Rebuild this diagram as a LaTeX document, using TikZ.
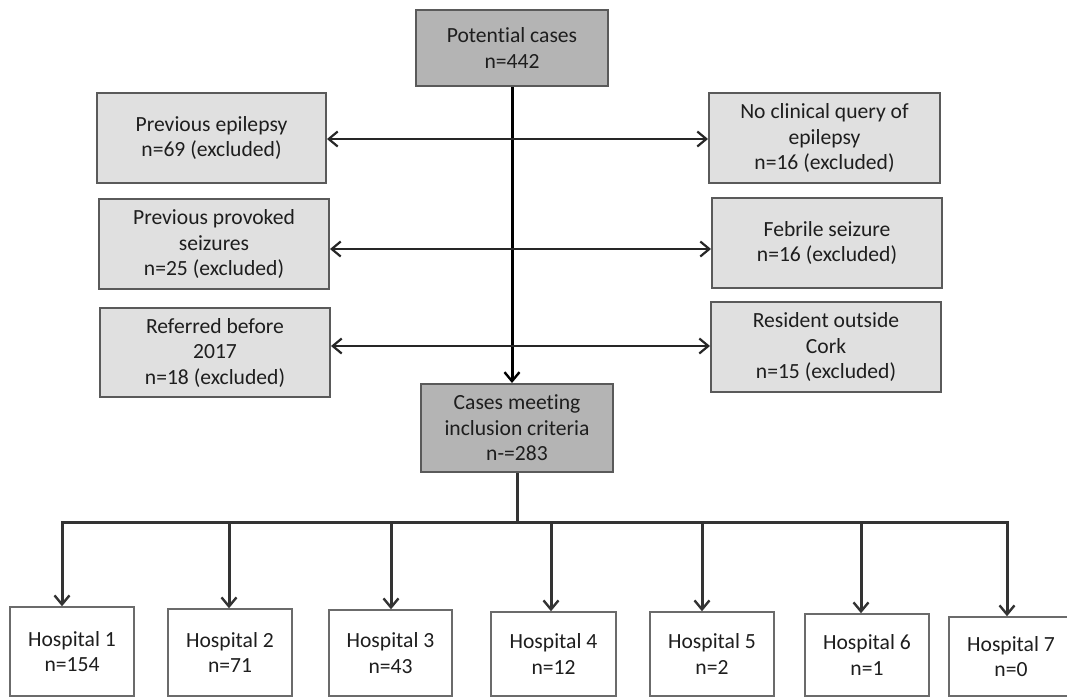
\documentclass[tikz,border=0pt]{standalone}
\usepackage{fontspec}
\setmainfont{Carlito}[Ligatures=NoCommon]
\usetikzlibrary{arrows.meta}
\definecolor{darkfill}{HTML}{B4B4B4}
\definecolor{lightfill}{HTML}{E0E0E0}
\definecolor{edgegray}{HTML}{5A5A5A}
\definecolor{linegray}{HTML}{333333}
\definecolor{textcol}{HTML}{1E1E1E}
\tikzset{
  basebox/.style={draw=edgegray, line width=2pt, align=center, inner sep=2pt,
    font=\fontsize{21.6}{25.5}\selectfont, text=textcol},
  darkbox/.style={basebox, fill=darkfill},
  lightbox/.style={basebox, fill=lightfill},
  hospbox/.style={basebox, fill=white, line width=1.5pt, draw=edgegray!90},
  mainline/.style={line width=3pt, black},
  sidearrow/.style={line width=2.3pt, black!85, {Straight Barb[length=9pt, width=15pt, line width=2.2pt]}-{Straight Barb[length=9pt, width=15pt, line width=2.2pt]}},
  busline/.style={line width=3pt, linegray},
  droparrow/.style={line width=3pt, linegray, -{Straight Barb[length=9pt, width=15pt, line width=2.4pt]}}
}
\begin{document}
\begin{tikzpicture}[x=1pt,y=-1pt]
\useasboundingbox (0,0) rectangle (1067,697);
% top
\node[darkbox, minimum width=192pt, minimum height=76pt] (top) at (512,48) {Potential cases\\n=442};
% left exclusions
\node[lightbox, minimum width=229pt, minimum height=90pt] (l1) at (211.5,138) {Previous epilepsy\\n=69 (excluded)};
\node[lightbox, minimum width=230pt, minimum height=90pt] (l2) at (214,244) {Previous provoked\\seizures\\n=25 (excluded)};
\node[lightbox, minimum width=230pt, minimum height=89pt] (l3) at (215,352.5) {Referred before\\2017\\n=18 (excluded)};
% right exclusions
\node[lightbox, minimum width=231pt, minimum height=90pt] (r1) at (824.5,138) {No clinical query of\\epilepsy\\n=16 (excluded)};
\node[lightbox, minimum width=230pt, minimum height=90pt] (r2) at (827,243) {Febrile seizure\\n=16 (excluded)};
\node[lightbox, minimum width=230pt, minimum height=90pt] (r3) at (826,347) {Resident outside\\Cork\\n=15 (excluded)};
% cases
\node[darkbox, minimum width=192pt, minimum height=88pt] (cases) at (517,428) {Cases meeting\\inclusion criteria\\n-=283};
% hospitals
\node[hospbox, minimum width=124pt, minimum height=89pt] (h1) at (72,651.5) {Hospital 1\\n=154};
\node[hospbox, minimum width=124pt, minimum height=87pt] (h2) at (230,652.5) {Hospital 2\\n=71};
\node[hospbox, minimum width=123pt, minimum height=86pt] (h3) at (390.5,653) {Hospital 3\\n=43};
\node[hospbox, minimum width=125pt, minimum height=84pt] (h4) at (553.5,654) {Hospital 4\\n=12};
\node[hospbox, minimum width=124pt, minimum height=84pt] (h5) at (712,654) {Hospital 5\\n=2};
\node[hospbox, minimum width=124pt, minimum height=82pt] (h6) at (867,655) {Hospital 6\\n=1};
\node[hospbox, minimum width=124pt, minimum height=79pt] (h7) at (1011,656.5) {Hospital 7\\n=0};
% main flow
\draw[mainline, -{Straight Barb[length=9pt, width=15pt, line width=2.4pt]}] (top.south) -- (top.south |- cases.north);
\draw[sidearrow] ([yshift=-1pt]l1.east) -- ([yshift=-1pt]l1.east -| r1.west);
\draw[sidearrow] ([yshift=-5pt]l2.east) -- ([yshift=-5pt]l2.east -| r2.west);
\draw[sidearrow] ([yshift=1pt]r3.west -| l3.east) -- ([yshift=1pt]r3.west);
% bus
\coordinate (b1) at (62,522);
\coordinate (b2) at (229,522);
\coordinate (b3) at (391,522);
\coordinate (b4) at (551,522);
\coordinate (b5) at (702,522);
\coordinate (b6) at (861,522);
\coordinate (b7) at (1007,522);
\draw[busline] (cases.south) -- (cases.south |- b1);
\draw[busline, line cap=rect] (b1) -- (b7);
\draw[droparrow] (b1) -- (b1 |- h1.north);
\draw[droparrow] (b2) -- (b2 |- h2.north);
\draw[droparrow] (b3) -- (b3 |- h3.north);
\draw[droparrow] (b4) -- (b4 |- h4.north);
\draw[droparrow] (b5) -- (b5 |- h5.north);
\draw[droparrow] (b6) -- (b6 |- h6.north);
\draw[droparrow] (b7) -- (b7 |- h7.north);
\end{tikzpicture}
\end{document}
